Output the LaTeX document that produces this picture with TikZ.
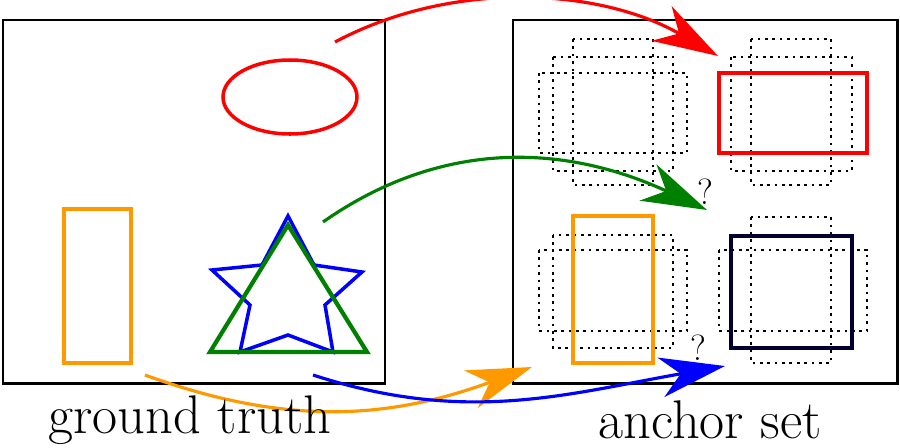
\documentclass[tikz,border=0pt]{standalone}
\usetikzlibrary{arrows.meta}
\tikzset{
  panel/.style={draw, line width=1.7pt},
  anchorbox/.style={draw, line width=1.5pt, dash pattern=on 1.5pt off 2.7pt},
  fat/.style={line width=2pt},
  move/.style={line width=1.8pt, -{Stealth[length=13mm,width=8mm,inset=4mm]}},
  caption/.style={font=\fontsize{31}{32}\selectfont, inner sep=0pt}
}
\begin{document}
\begin{tikzpicture}[x=0.02cm,y=-0.02cm]
  \useasboundingbox (0,0) rectangle (900,447);
  % panels
  \draw[panel] (3,20) rectangle (385,383);
  \draw[panel] (513,20) rectangle (897,383);

  % ground truth shapes
  \draw[red, fat] (290,97) ellipse [x radius=67, y radius=37];
  \draw[orange!80!yellow, fat] (64,209) rectangle (131,363);
  \draw[blue, fat] (288,216) -- (314,265) -- (362,272) -- (325,305) -- (333,352)
    -- (288,335) -- (240,352) -- (250,305) -- (212,270) -- (262,265) -- cycle;
  \draw[green!50!black, line width=2.4pt] (288,225) -- (367,352) -- (210,352) -- cycle;

  % anchors, top left
  \draw[anchorbox] (539,73) rectangle (687,153);
  \draw[anchorbox] (553,57) rectangle (673,171);
  \draw[anchorbox] (573,39) rectangle (653,185);
  % anchors, top right
  \draw[anchorbox] (731,57) rectangle (852,171);
  \draw[anchorbox] (751,39) rectangle (831,185);
  \draw[red, line width=2.4pt] (719,73) rectangle (867,153);
  % anchors, bottom left
  \draw[anchorbox] (539,250) rectangle (687,331);
  \draw[anchorbox] (553,235) rectangle (673,348);
  \draw[orange!80!yellow, line width=2.4pt] (573,216) rectangle (653,363);
  % anchors, bottom right
  \draw[anchorbox] (719,250) rectangle (867,331);
  \draw[anchorbox] (751,217) rectangle (831,363);
  \draw[black!80!blue, line width=2.4pt] (731,236) rectangle (852,348);

  % arrow ends
  \coordinate (r0) at (335,42);   \coordinate (r1) at (718,56);
  \coordinate (g0) at (323,222);  \coordinate (g1) at (707,210);
  \coordinate (o0) at (145,375);  \coordinate (o1) at (532,367);
  \coordinate (b0) at (313,375);  \coordinate (b1) at (725,366);

  \draw[move, red] (r0) to[out=28, in=150, looseness=0.9] (r1);
  \draw[move, green!50!black] (g0) to[out=35, in=155] (g1);
  \draw[move, orange!80!yellow] (o0) to[out=-20, in=200] (o1);
  \draw[move, blue] (b0) to[out=-18, in=190] (b1);

  % labels
  \node[font=\huge] (q1) at (705,192) {?};
  \node[font=\huge] (q2) at (698,348) {?};
  \node[caption] (gt) at (190,420) {ground truth};
  \node[caption] (as) at (710,420) {anchor set};
\end{tikzpicture}
\end{document}
